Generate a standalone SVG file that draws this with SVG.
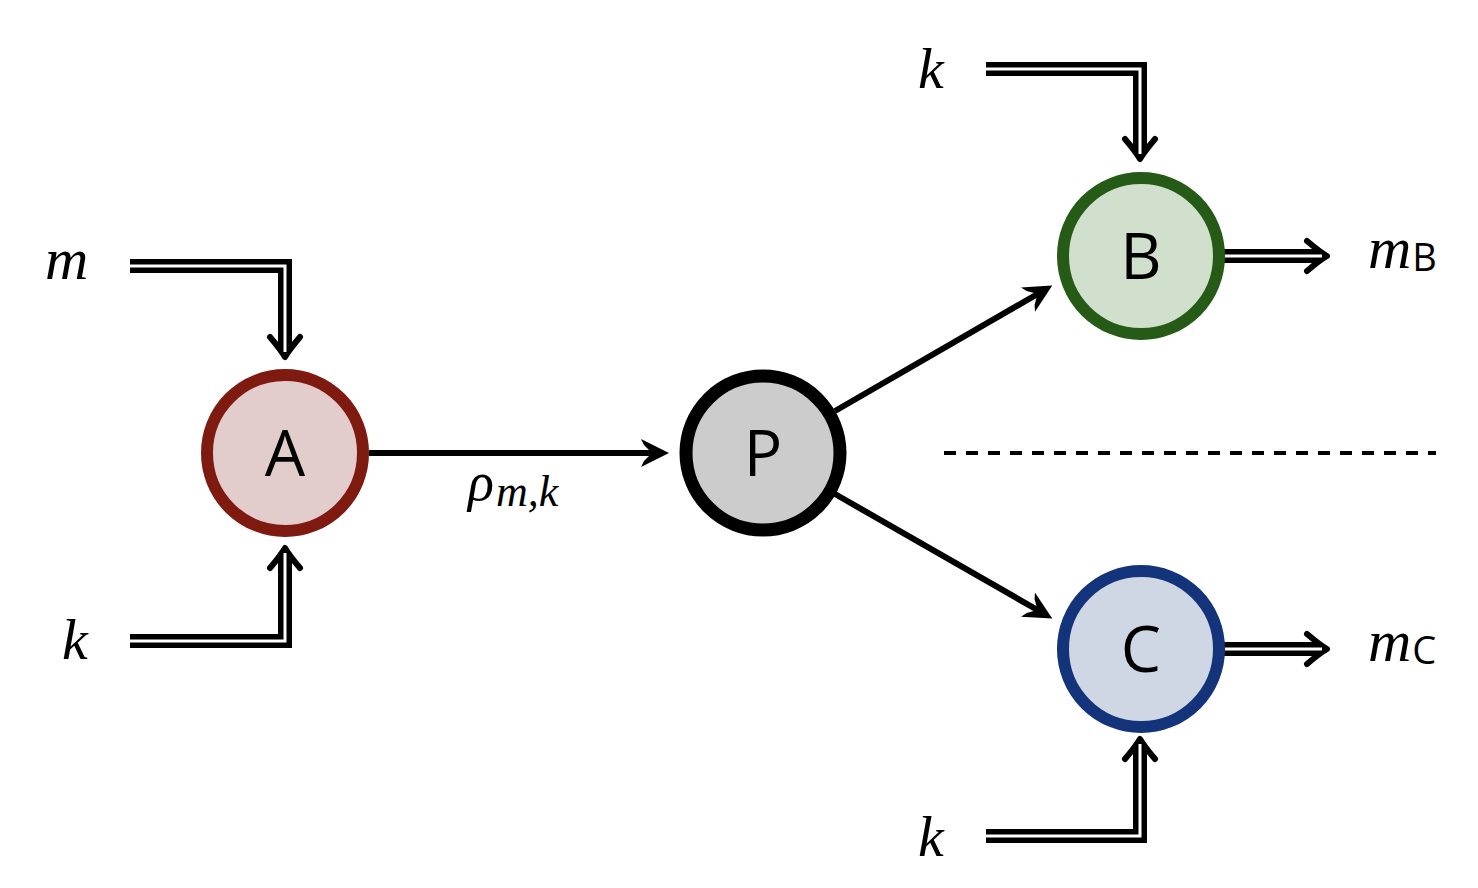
<svg xmlns="http://www.w3.org/2000/svg" width="1478" height="888" viewBox="0 0 1478 888">
<style>
.node circle{stroke-width:12}
.lbl{font-family:"Open Sans","Noto Sans",sans-serif;font-size:64px;fill:#000;text-anchor:middle}
.math{font-family:"Liberation Serif",serif;font-style:italic;fill:#000}
.sub{font-family:"Open Sans","Noto Sans",sans-serif;font-style:normal}
.dbl{fill:none;stroke:#000;stroke-width:14;stroke-linejoin:miter}
.dbli{fill:none;stroke:#fff;stroke-width:3;stroke-linejoin:miter}
.sgl{fill:none;stroke:#000;stroke-width:6}
.dash{fill:none;stroke:#000;stroke-width:4;stroke-dasharray:12 10}
</style>
<defs>
<marker id="dh" markerUnits="userSpaceOnUse" orient="auto" refX="0" refY="0" markerWidth="40" markerHeight="40" overflow="visible">
<path d="M-15,-15 Q-2,-4 5,0 Q-2,4 -15,15" fill="none" stroke="#000" stroke-width="6" stroke-linecap="round" stroke-linejoin="round"/>
</marker>
<marker id="sh" markerUnits="userSpaceOnUse" orient="auto" refX="0" refY="0" markerWidth="40" markerHeight="40" overflow="visible">
<path d="M13,0 L-15,-14 L-12,-8 Q-6,-2 -4,0 Q-6,2 -12,8 L-15,14 Z" fill="#000"/>
</marker>
</defs>

<g id="connectors">
<!-- m -> A -->
<path class="dbl" d="M130,266 H285 V352" marker-end="url(#dh)"/>
<path class="dbli" d="M130,266 H285 V352"/>
<!-- k -> A -->
<path class="dbl" d="M130,641 H285 V553" marker-end="url(#dh)"/>
<path class="dbli" d="M130,641 H285 V553"/>
<!-- A -> P -->
<path class="sgl" d="M369,453 H656" marker-end="url(#sh)"/>
<!-- P -> B -->
<path class="sgl" d="M835,411 L1041,292" marker-end="url(#sh)"/>
<!-- P -> C -->
<path class="sgl" d="M835,494 L1041,612" marker-end="url(#sh)"/>
<!-- k -> B -->
<path class="dbl" d="M986,69 H1140 V154" marker-end="url(#dh)"/>
<path class="dbli" d="M986,69 H1140 V154"/>
<!-- k -> C -->
<path class="dbl" d="M986,836 H1140 V744" marker-end="url(#dh)"/>
<path class="dbli" d="M986,836 H1140 V744"/>
<!-- B -> mB -->
<path class="dbl" d="M1224,256 H1322" marker-end="url(#dh)"/>
<path class="dbli" d="M1224,256 H1322"/>
<!-- C -> mC -->
<path class="dbl" d="M1224,649 H1322" marker-end="url(#dh)"/>
<path class="dbli" d="M1224,649 H1322"/>
<!-- separator -->
<path class="dash" d="M944,453 H1436"/>
</g>

<g id="nodeA" class="node">
<circle cx="285" cy="453" r="78" fill="#e3cccc" stroke="#7f1a10"/>
<text class="lbl" x="285" y="476">A</text>
</g>
<g id="nodeP" class="node">
<circle cx="763" cy="453" r="77" fill="#cccccc" stroke="#000" style="stroke-width:13"/>
<text class="lbl" x="763" y="476">P</text>
</g>
<g id="nodeB" class="node">
<circle cx="1141" cy="256" r="78" fill="#d0e0cd" stroke="#255a17"/>
<text class="lbl" x="1141" y="279">B</text>
</g>
<g id="nodeC" class="node">
<circle cx="1141" cy="649" r="78" fill="#cfd7e4" stroke="#13337a"/>
<text class="lbl" x="1141" y="672">C</text>
</g>

<g id="labels">
<text class="math" x="45" y="279" font-size="60">m</text>
<text class="math" x="62" y="659" font-size="58">k</text>
<text class="math" x="918" y="88" font-size="58">k</text>
<text class="math" x="918" y="856" font-size="58">k</text>
<text class="math" x="468" y="500" font-size="54">ρ<tspan font-size="44" dy="6" dx="2">m,k</tspan></text>
<text class="math" x="1368" y="268" font-size="60">m<tspan class="sub" font-size="38" dy="3" dx="1">B</tspan></text>
<text class="math" x="1368" y="661" font-size="60">m<tspan class="sub" font-size="38" dy="3" dx="1">C</tspan></text>
</g>
</svg>
